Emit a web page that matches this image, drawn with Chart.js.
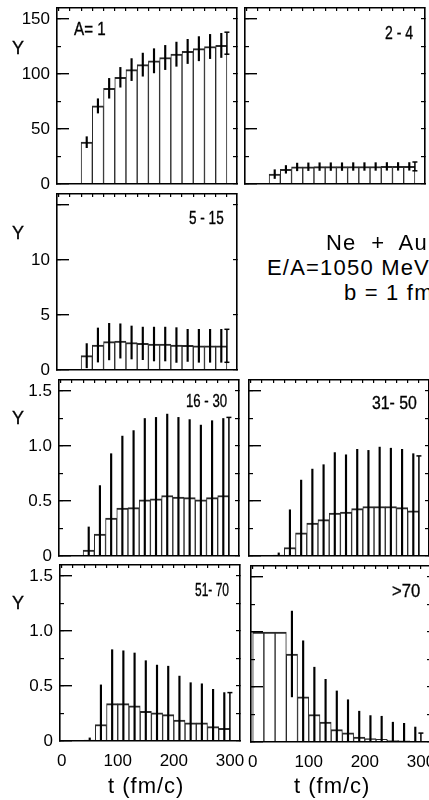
<!DOCTYPE html>
<html>
<head>
<meta charset="utf-8">
<script src="https://cdn.jsdelivr.net/npm/chart.js@4.4.1/dist/chart.umd.min.js"></script>
<style>
  body { margin:0; width:429px; height:800px; overflow:hidden; background:#fff; position:relative; }
  canvas { position:absolute; }
  .txt { position:absolute; white-space:pre; line-height:1; color:#000; font-family:"Liberation Sans",Arial,sans-serif; }
  .tag { font-size:19px; transform-origin:0 50%; -webkit-text-stroke:0.35px #000; }
  .ylab { font-size:18px; transform:translate(-50%,-50%); -webkit-text-stroke:0.3px #000; }
  .big { font-size:22px; letter-spacing:1.2px; }
  .xt { font-size:22px; letter-spacing:1px; }
</style>
</head>
<body>
<script>
// bin centres (fm/c), bins are 20 fm/c wide; last error bar sits at t = 300
const binCenters = [10, 30, 50, 70, 90, 110, 130, 150, 170, 190, 210, 230, 250, 270, 290];
const tEnd = 300;

// A = 1
const yA1 = [null, null, 38, 71, 87, 97, 104, 108.5, 112, 115, 118, 120.5, 123, 125, 126];
const eA1 = [null, null, 5, 6.5, 9, 9, 10, 10.5, 11, 11, 11, 11, 11, 11, 11];
const endA1 = [128, 10];
// 2-4
const yA2 = [null, null, 9, 13.3, 15.5, 15.7, 15.8, 15.8, 15.8, 15.9, 15.9, 15.9, 16, 16, 16];
const eA2 = [null, null, 4, 3.5, 3.5, 3.5, 3.5, 3.5, 3.5, 3.5, 3.5, 3.5, 3.5, 3.5, 3.5];
const endA2 = [16, 4];
// 5-15
const yA3 = [null, null, 1.3, 2.27, 2.58, 2.64, 2.5, 2.42, 2.36, 2.36, 2.27, 2.24, 2.2, 2.2, 2.2];
const eA3 = [null, null, 1.1, 1.55, 1.66, 1.56, 1.5, 1.48, 1.54, 1.54, 1.58, 1.46, 1.5, 1.5, 1.5];
const endA3 = [2.2, 1.5];
// 16-30
const yA4 = [null, null, 0.054, 0.2, 0.345, 0.435, 0.44, 0.51, 0.52, 0.55, 0.535, 0.53, 0.51, 0.53, 0.55];
const eA4 = [null, null, 0.21, 0.44, 0.585, 0.655, 0.7, 0.74, 0.74, 0.74, 0.725, 0.71, 0.68, 0.7, 0.7];
const endA4 = [0.55, 0.71];
// 31-50
const yA5 = [null, null, 0.008, 0.077, 0.21, 0.3, 0.33, 0.39, 0.4, 0.43, 0.45, 0.45, 0.45, 0.44, 0.41];
const eA5 = [null, null, 0.02, 0.343, 0.48, 0.49, 0.5, 0.55, 0.52, 0.54, 0.51, 0.54, 0.53, 0.53, 0.52];
const endA5 = [0.41, 0.5];
// 51-70
const yA6 = [null, null, 0.008, 0.15, 0.34, 0.34, 0.32, 0.27, 0.255, 0.24, 0.19, 0.165, 0.165, 0.13, 0.115];
const eA6 = [null, null, 0.02, 0.36, 0.49, 0.48, 0.48, 0.46, 0.435, 0.44, 0.4, 0.365, 0.355, 0.34, 0.325];
const endA6 = [0.115, 0.325];
// >70
const yA7 = [1.0, 1.0, 1.0, 0.8, 0.41, 0.25, 0.18, 0.114, 0.084, 0.045, 0.03, 0.024, 0.015, 0.01, 0.006];
const eA7 = [null, null, null, 0.39, 0.51, 0.43, 0.39, 0.35, 0.3, 0.235, 0.21, 0.21, 0.165, 0.16, 0.13];
const endA7 = [0.006, 0.075];

const xTickLabels = [0, 100, 200, 300];

const FONT = '"Liberation Sans", Arial, sans-serif';
const XMIN = -3, XMAX = 318;

// panel placement (chart area left/top in page px); tag box = left, width, centre y
const panels = [
  { tag: 'A= 1',   y: yA1, e: eA1, end: endA1, L: 57,  T: 8,   ymax: 160, maj: 50,  min: 25,   col: 0, last: false, tagBox: [74, 32, 27.5] },
  { tag: '2 - 4',  y: yA2, e: eA2, end: endA2, L: 245, T: 8,   ymax: 160, maj: 50,  min: 25,   col: 1, last: false, tagBox: [385, 28, 31.5] },
  { tag: '5 - 15', y: yA3, e: eA3, end: endA3, L: 57,  T: 194, ymax: 16,  maj: 5,   min: 5,    col: 0, last: false, tagBox: [189, 35, 216.5] },
  { tag: '16 - 30',y: yA4, e: eA4, end: endA4, L: 59,  T: 380, ymax: 1.6, maj: 0.5, min: 0.25, col: 0, last: false, tagBox: [186, 41, 399.5] },
  { tag: '31- 50', y: yA5, e: eA5, end: endA5, L: 249, T: 380, ymax: 1.6, maj: 0.5, min: 0.25, col: 1, last: false, tagBox: [372, 45, 401.5] },
  { tag: '51- 70', y: yA6, e: eA6, end: endA6, L: 60,  T: 565, ymax: 1.6, maj: 0.5, min: 0.25, col: 0, last: true,  tagBox: [195, 34, 589] },
  { tag: '>70',    y: yA7, e: eA7, end: endA7, L: 251, T: 566, ymax: 1.6, maj: 0.5, min: 0.25, col: 1, last: true,  tagBox: [392, 28, 590] }
];

function yFmt(p) {
  return function (v) {
    if (p.ymax === 16) return v === 15 ? '' : v;
    if (p.ymax === 1.6) return v === 0 ? '0' : v.toFixed(1);
    return v;
  };
}

function addText(cls, text, x, y) {
  const d = document.createElement('div');
  d.className = 'txt ' + cls;
  d.textContent = text;
  d.style.left = x + 'px';
  d.style.top = y + 'px';
  document.body.appendChild(d);
  return d;
}

// panel tags are in a condensed face in the original: squeeze to the measured width
function addTag(text, box) {
  const d = addText('tag', text, box[0], box[2]);
  const k = box[1] / d.offsetWidth;
  d.style.transform = 'translateY(-50%) scaleX(' + k.toFixed(3) + ')';
}

// keep label overflow from shrinking the plot area
function fixW(w) { return function (s) { s.width = w; s.paddingTop = 0; s.paddingBottom = 0; }; }
function fixH(h) { return function (s) { s.height = h; s.paddingLeft = 0; s.paddingRight = 0; }; }

panels.forEach(function (p) {
  const AX = p.col === 0 ? 57 : 14, AR = 6, AT = 6, AB = p.last ? 36 : 12;
  const W = AX + 180 + AR, H = AT + 176 + AB;
  const cv = document.createElement('canvas');
  cv.width = W; cv.height = H;
  cv.style.left = (p.L - AX) + 'px';
  cv.style.top = (p.T - AT) + 'px';
  document.body.appendChild(cv);

  const bars = [], errs = [];
  binCenters.forEach(function (t, i) {
    if (p.y[i] != null) bars.push({ x: t, y: p.y[i] });
    if (p.e[i] != null) errs.push({ x: t, y: [Math.max(0, p.y[i] - p.e[i]), p.y[i] + p.e[i]] });
  });
  const endPts = [
    { x: tEnd, y: Math.max(0, p.end[0] - p.end[1]) },
    { x: tEnd, y: p.end[0] + p.end[1] }
  ];

  const frame = { display: true, color: '#000', width: 1.6, z: 1 };

  new Chart(cv, {
    type: 'bar',
    data: {
      datasets: [
        { type: 'line', data: endPts, borderColor: '#000', borderWidth: 1.5,
          pointStyle: 'line', pointRadius: 2.5, pointBorderWidth: 1.5, pointBorderColor: '#000', order: 0 },
        { data: errs, backgroundColor: '#000', maxBarThickness: 1.5, grouped: false,
          categoryPercentage: 1, barPercentage: 1, order: 1 },
        { data: bars, backgroundColor: '#fff', borderColor: '#2a2a2a',
          borderWidth: { top: 2, left: 1, right: 1, bottom: 0 }, borderSkipped: false,
          grouped: false, categoryPercentage: 1, barPercentage: 1, order: 2 }
      ]
    },
    options: {
      responsive: false,
      animation: false,
      events: [],
      layout: { padding: 0, autoPadding: false },
      plugins: { legend: { display: false }, tooltip: { enabled: false } },
      scales: {
        x: {
          axis: 'x', type: 'linear', position: 'bottom', min: XMIN, max: XMAX, offset: false,
          grid: { display: false, drawTicks: false, offset: false },
          border: frame,
          ticks: {
            display: p.last, stepSize: 20, includeBounds: false, autoSkip: false, maxRotation: 0,
            padding: 10, color: '#000', font: { family: FONT, size: 17 },
            callback: function (v) { return xTickLabels.indexOf(v) >= 0 ? v : ''; }
          },
          afterFit: fixH(AB)
        },
        xt: {
          axis: 'x', type: 'linear', position: 'top', min: XMIN, max: XMAX, offset: false,
          grid: { drawOnChartArea: false, tickLength: -3, color: '#000', lineWidth: 1.2, offset: false, z: 1 },
          border: frame,
          ticks: { display: false, stepSize: 20, includeBounds: false },
          afterFit: fixH(AT)
        },
        y: {
          axis: 'y', type: 'linear', position: 'left', weight: 1, min: 0, max: p.ymax,
          grid: { drawOnChartArea: false, tickLength: -12, color: '#000', lineWidth: 1.4, z: 1 },
          border: frame,
          ticks: {
            display: p.col === 0, stepSize: p.maj, includeBounds: false, padding: 19,
            color: '#000', font: { family: FONT, size: 17 }, callback: yFmt(p)
          },
          afterFit: fixW(AX)
        },
        y2: {
          axis: 'y', type: 'linear', position: 'left', weight: 0, min: 0, max: p.ymax,
          grid: { drawOnChartArea: false, tickLength: -4, color: '#000', lineWidth: 1.2, z: 1 },
          border: { display: false },
          ticks: { display: false, stepSize: p.min, includeBounds: false },
          afterFit: fixW(0)
        },
        yr: {
          axis: 'y', type: 'linear', position: 'right', min: 0, max: p.ymax,
          grid: { drawOnChartArea: false, tickLength: -4, color: '#000', lineWidth: 1.2, z: 1 },
          border: frame,
          ticks: { display: false, stepSize: p.min, includeBounds: false },
          afterFit: fixW(AR)
        }
      }
    }
  });

  addTag(p.tag, p.tagBox);
  if (p.col === 0) addText('ylab', 'Y', 18, p.T + (p.ymax === 160 ? 40 : p.ymax === 16 ? 39 : 38));
});

// reaction text
addText('big', 'Ne  +  Au', 326, 232);
addText('big', 'E/A=1050 MeV', 267, 257);
addText('big', 'b = 1 fm', 344, 282);
// axis titles
addText('xt', 't (fm/c)', 108, 775);
addText('xt', 't (fm/c)', 294, 775);
</script>
</body>
</html>
